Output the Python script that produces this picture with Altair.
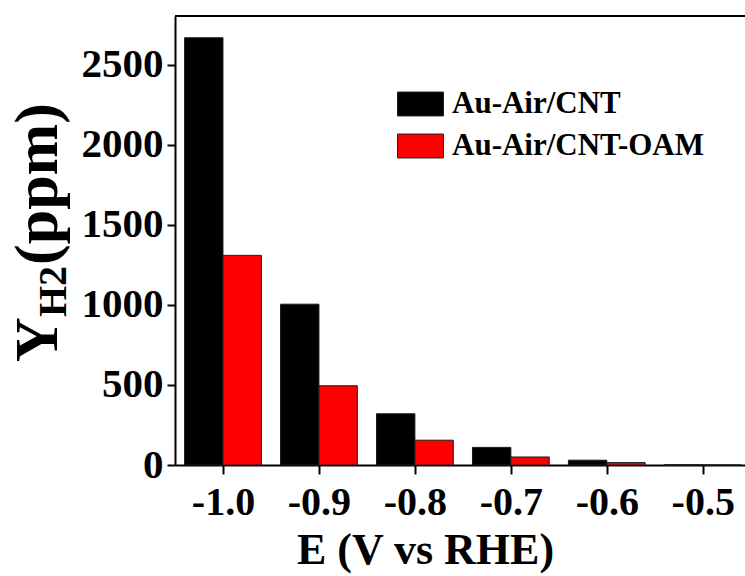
import altair as alt
import pandas as pd

# ---- data ----
potentials = [-1.0, -0.9, -0.8, -0.7, -0.6, -0.5]
ypl_cnt = [2670, 1005, 320, 110, 30, 1]
ypl_oam = [1310, 495, 155, 50, 15, 0]
series_names = ["Au-Air/CNT", "Au-Air/CNT-OAM"]
series_colors = ["#000000", "#ff0000"]
y_ticks = [0, 500, 1000, 1500, 2000, 2500]

rows = []
for e, a, b in zip(potentials, ypl_cnt, ypl_oam):
    rows.append({"E": e, "series": series_names[0], "value": a})
    rows.append({"E": e, "series": series_names[1], "value": b})
df = pd.DataFrame(rows)

W, H = 570, 449
FONT = "Liberation Serif"

x_scale = alt.Scale(domain=[-1.05, -0.456], nice=False, zero=False)
y_scale = alt.Scale(domain=[0, 2806], nice=False)

bars = alt.Chart(df).transform_calculate(
    x0=f"datum.series == '{series_names[0]}' ? datum.E - 0.04 : datum.E",
    x1=f"datum.series == '{series_names[0]}' ? datum.E : datum.E + 0.04",
).mark_bar(stroke="#1a1a1a", strokeWidth=1, opacity=1).encode(
    x=alt.X(
        "x0:Q",
        scale=x_scale,
        axis=alt.Axis(
            values=potentials,
            labelExpr="replace(format(datum.value, '.1f'), '\u2212', '-')",
            title="E (V vs RHE)",
            titleFont=FONT,
            titleFontSize=44,
            titleFontWeight="bold",
            titleColor="black",
            titleX=250,
            titleY=98,
            titleAnchor="middle",
            titleAlign="center",
            titleBaseline="alphabetic",
            labelFont=FONT,
            labelFontSize=40,
            labelFontWeight="bold",
            labelColor="black",
            labelPadding=8,
            tickSize=9,
            tickWidth=2,
            tickColor="black",
            domainColor="black",
            domainWidth=2,
            grid=False,
        ),
    ),
    x2="x1:Q",
    y=alt.Y(
        "value:Q",
        scale=y_scale,
        axis=alt.Axis(
            values=y_ticks,
            format="d",
            title=None,
            labelFont=FONT,
            labelFontSize=41,
            labelFontWeight="bold",
            labelColor="black",
            labelPadding=4,
            tickSize=8,
            tickWidth=2,
            tickColor="black",
            domainColor="black",
            domainWidth=2,
            grid=False,
        ),
    ),
    y2=alt.datum(0),
    color=alt.Color(
        "series:N",
        scale=alt.Scale(domain=series_names, range=series_colors),
        legend=alt.Legend(
            title=None,
            orient="none",
            legendX=222,
            legendY=73,
            symbolType="M-1,-0.52H1V0.52H-1Z",
            symbolSize=2116,
            symbolStrokeColor="#222222",
            symbolStrokeWidth=1,
            symbolOpacity=1,
            labelFont=FONT,
            labelFontSize=31,
            labelFontWeight="bold",
            labelColor="black",
            labelOffset=8,
            labelLimit=0,
            clipHeight=30,
            rowPadding=11,
            padding=0,
        ),
    ),
)

frame_top = alt.Chart(pd.DataFrame({"k": [0]})).mark_rule(
    color="black", strokeWidth=2
).encode(x=alt.value(0), x2=alt.value(W), y=alt.value(0))

title_df = pd.DataFrame({"k": [0]})
yt_main = alt.Chart(title_df).mark_text(
    text="Y", font=FONT, fontSize=62, fontWeight="bold", angle=270,
    align="left", baseline="alphabetic", color="black",
).encode(x=alt.value(-118), y=alt.value(346))
yt_sub = alt.Chart(title_df).mark_text(
    text="H2", font=FONT, fontSize=40, fontWeight="bold", angle=270,
    align="left", baseline="alphabetic", color="black",
).encode(x=alt.value(-109), y=alt.value(301))
yt_unit = alt.Chart(title_df).mark_text(
    text="(ppm)", font=FONT, fontSize=62, fontWeight="bold", angle=270,
    align="left", baseline="alphabetic", color="black",
).encode(x=alt.value(-118), y=alt.value(249))

chart = alt.layer(bars, frame_top, yt_main, yt_sub, yt_unit).properties(
    width=W,
    height=H,
    autosize=alt.AutoSizeParams(type="none"),
    padding={"left": 175, "top": 16, "right": 0, "bottom": 111},
    background="white",
).configure_view(stroke=None)

chart.save("out.html", embed_options={"renderer": "svg", "actions": False})
